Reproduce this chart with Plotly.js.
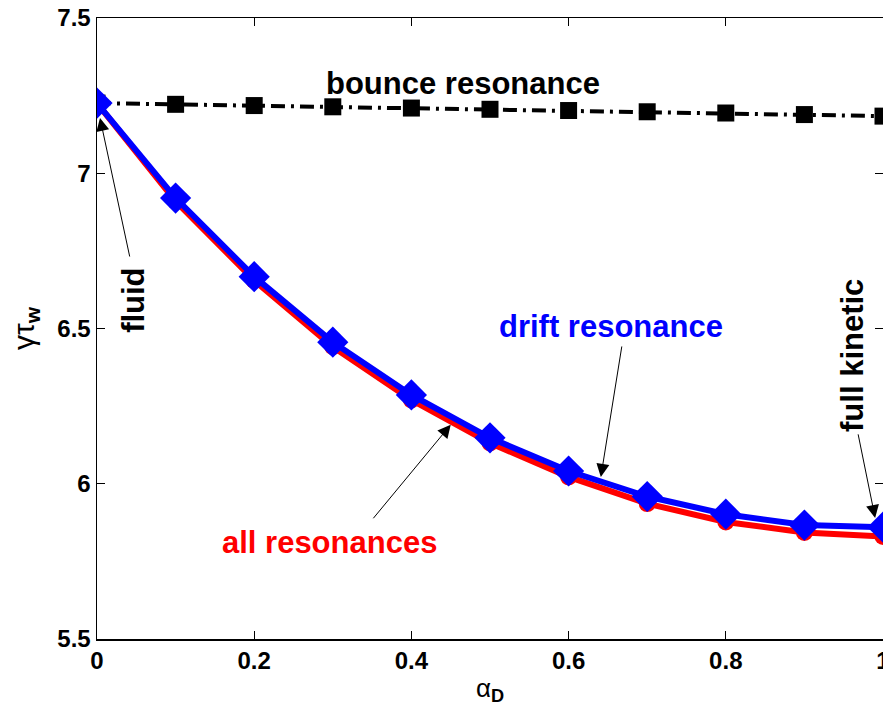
<!DOCTYPE html>
<html>
<head>
<meta charset="utf-8">
<script src="https://cdn.plot.ly/plotly-3.0.1.min.js"></script>
<style>html,body{margin:0;padding:0;background:#fff;overflow:hidden;width:883px;height:706px;}#chart{width:900px;height:706px;}</style>
</head>
<body>
<div id="chart"></div>
<script>
const alphaD = [0, 0.1, 0.2, 0.3, 0.4, 0.5, 0.6, 0.7, 0.8, 0.9, 1.0];
const bounceRes = [7.226, 7.222, 7.218, 7.214, 7.210, 7.206, 7.202, 7.198, 7.194, 7.189, 7.184];
const driftRes = [7.226, 6.920, 6.667, 6.456, 6.286, 6.148, 6.041, 5.959, 5.902, 5.867, 5.860];
const allRes = [7.226, 6.910, 6.655, 6.441, 6.270, 6.131, 6.022, 5.936, 5.877, 5.843, 5.830];
const xTicks = [0, 0.2, 0.4, 0.6, 0.8, 1];
const yTicks = [5.5, 6, 6.5, 7, 7.5];

const FONT = 'Liberation Sans, Arial, Helvetica, sans-serif';

const traces = [
  {x: alphaD, y: bounceRes, mode: 'lines+markers', name: 'bounce resonance',
   line: {color: '#000', width: 4, dash: '14px,6px,3px,6px'},
   marker: {symbol: 'square', size: 17, color: '#000'}},
  {x: alphaD, y: allRes, mode: 'lines+markers', name: 'all resonances',
   line: {color: '#ff0000', width: 6},
   marker: {symbol: 'circle', size: 17, color: '#ff0000'}},
  {x: alphaD, y: driftRes, mode: 'lines+markers', name: 'drift resonance',
   line: {color: '#0000ff', width: 6},
   marker: {symbol: 'diamond', size: 24, color: '#0000ff'}}
];

function arrow(x, y, ax, ay) {
  return {x: x, y: y, ax: ax, ay: ay, xref: 'x', yref: 'y', axref: 'x', ayref: 'y',
    text: '', showarrow: true, arrowhead: 2, arrowsize: 2.6, arrowwidth: 1, arrowcolor: '#000'};
}
function label(x, y, text, color, angle) {
  return {x: x, y: y, xref: 'x', yref: 'y', text: '<b>' + text + '</b>', showarrow: false,
    textangle: angle || 0, font: {family: FONT, size: 31, color: color},
    xanchor: 'center', yanchor: 'middle'};
}

const layout = {
  width: 900, height: 706,
  margin: {l: 97, r: 17, t: 18, b: 67},
  paper_bgcolor: '#fff', plot_bgcolor: '#fff',
  showlegend: false,
  font: {family: FONT, color: '#000'},
  xaxis: {
    range: [0, 1], tickvals: xTicks, ticktext: xTicks.map(String),
    ticks: 'inside', ticklen: 8, tickwidth: 1, tickcolor: '#000',
    showline: true, linecolor: '#000', linewidth: 1.5, mirror: 'ticks',
    showgrid: false, zeroline: false,
    tickfont: {family: FONT, size: 24, color: '#000', weight: 'bold'},
    title: {text: 'α<sub><b>D</b></sub>', font: {family: FONT, size: 26, color: '#000'}, standoff: 6}
  },
  yaxis: {
    range: [5.5, 7.5], tickvals: yTicks, ticktext: yTicks.map(String),
    ticks: 'inside', ticklen: 8, tickwidth: 1, tickcolor: '#000',
    showline: true, linecolor: '#000', linewidth: 1.5, mirror: 'ticks',
    showgrid: false, zeroline: false,
    tickfont: {family: FONT, size: 24, color: '#000', weight: 'bold'},
    title: {text: 'γτ<sub><b>w</b></sub>', font: {family: FONT, size: 30, color: '#000'}, standoff: 14}
  },
  annotations: [
    label(0.4656, 7.290, 'bounce resonance', '#000'),
    label(0.654, 6.505, 'drift resonance', '#0000ff'),
    label(0.2964, 5.810, 'all resonances', '#ff0000'),
    label(0.047, 6.592, 'fluid', '#000', -90),
    label(0.962, 6.412, 'full kinetic', '#000', -90),
    arrow(0.0038, 7.178, 0.042, 6.727),
    arrow(0.641, 6.022, 0.668, 6.447),
    arrow(0.450, 6.190, 0.350, 5.884),
    arrow(0.990, 5.890, 0.968, 6.164)
  ]
};

Plotly.newPlot('chart', traces, layout, {displayModeBar: false, staticPlot: true});
</script>
</body>
</html>
